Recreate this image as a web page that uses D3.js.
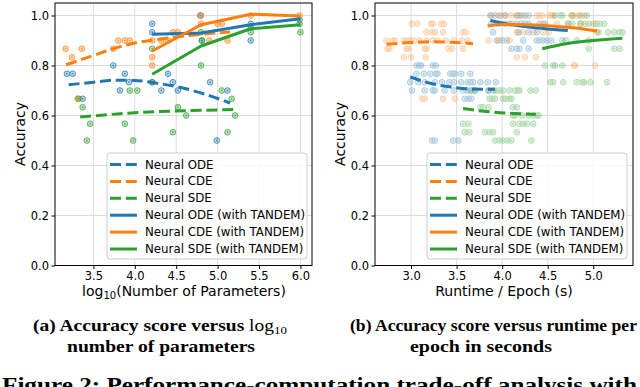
<!DOCTYPE html>
<html><head><meta charset="utf-8">
<script src="https://cdn.jsdelivr.net/npm/d3@7"></script>
<style>html,body{margin:0;padding:0;background:#fff;overflow:hidden}svg{display:block}</style>
</head><body>
<svg id="c" width="640" height="387"></svg>
<script>
// ---------- DATA ----------
const seriesNames = ["Neural ODE","Neural CDE","Neural SDE","Neural ODE (with TANDEM)","Neural CDE (with TANDEM)","Neural SDE (with TANDEM)"];
const colors = ["#1f77b4","#ff7f0e","#2ca02c"];
const yTicks = [0.0,0.2,0.4,0.6,0.8,1.0];
const paramTicks = [3.5,4.0,4.5,5.0,5.5,6.0];
const runtimeTicks = [3.0,3.5,4.0,4.5,5.0];

// Panel (a): log10(#params) vs accuracy scatter
const odeParamPts = [[3.18,0.767],[3.25,0.767],[3.37,0.667],[3.74,0.8],[3.82,0.7],[3.88,0.767],[3.93,0.733],[4.21,0.967],[4.21,0.933],[4.21,0.733],[4.32,0.7],[4.40,0.767],[4.46,0.733],[4.52,0.7],[4.79,1.0],[4.81,0.9],[4.91,0.733],[4.99,0.5],[5.12,0.7],[5.40,0.967],[5.40,0.9],[5.99,0.983]];
const cdeParamPts = [[3.165,0.867],[3.24,0.833],[3.36,0.867],[3.31,0.667],[3.74,0.867],[3.80,0.9],[3.88,0.9],[3.94,0.9],[4.21,0.9],[4.21,0.833],[4.21,0.8],[4.32,0.9],[4.40,0.9],[4.46,0.933],[4.52,0.933],[4.80,1.0],[4.80,0.967],[4.90,0.9],[5.0,0.967],[5.05,0.967],[5.12,0.9],[5.40,1.0],[5.99,1.0]];
const sdeParamPts = [[3.32,0.667],[3.37,0.633],[3.46,0.567],[3.42,0.5],[3.88,0.567],[3.94,0.7],[4.03,0.7],[3.98,0.5],[4.21,0.733],[4.21,0.867],[4.46,0.533],[4.52,0.633],[4.62,0.6],[4.80,0.933],[4.80,0.8],[4.81,0.9],[5.05,0.7],[5.12,0.533],[5.17,0.667],[5.21,0.6],[5.40,0.933],[5.40,0.95],[5.99,0.967],[6.0,0.933]];
// Panel (a) fitted lines
const odeParamLine = [[3.2,0.723],[3.5,0.733],[3.76,0.741],[4.0,0.74],[4.25,0.73],[4.58,0.71],[4.85,0.685],[5.15,0.65]];
const cdeParamLine = [[3.17,0.803],[3.5,0.84],[3.74,0.867],[4.0,0.89],[4.25,0.903],[4.6,0.918],[4.9,0.928],[5.15,0.934]];
const sdeParamLine = [[3.34,0.594],[3.7,0.604],[4.0,0.611],[4.6,0.619],[5.21,0.624]];
const odeTParamLine = [[4.21,0.925],[4.8,0.93],[5.4,0.963],[6.0,0.987]];
const cdeTParamLine = [[4.21,0.858],[4.8,0.963],[5.4,1.005],[6.0,0.998]];
const sdeTParamLine = [[4.21,0.765],[4.8,0.878],[5.4,0.947],[6.0,0.963]];

// Panel (b): runtime/epoch vs accuracy scatter
const odeRuntimePts = [
 [3.87,1.0],[3.92,1.0],[3.98,1.0],[4.03,1.0],[4.16,1.0],[4.19,1.0],[4.25,1.0],[4.29,1.0],
 [3.88,0.967],[3.95,0.967],[4.03,0.967],[4.10,0.967],[4.16,0.967],[4.21,0.967],[4.25,0.967],[4.29,0.967],[4.41,0.967],[4.47,0.967],
 [3.90,0.933],[4.18,0.933],[4.29,0.933],[4.38,0.933],
 [3.94,0.9],[4.0,0.9],[4.05,0.9],[4.23,0.9],[4.38,0.9],[4.41,0.9],[4.45,0.9],[4.49,0.9],[4.54,0.9],[4.66,0.9],
 [4.10,0.867],[4.16,0.867],[4.19,0.867],[4.29,0.867],
 [3.06,0.8],[3.09,0.8],[3.11,0.8],[3.24,0.8],[3.27,0.8],
 [3.06,0.767],[3.14,0.767],[3.21,0.767],[3.27,0.767],[3.29,0.767],[3.43,0.767],[3.46,0.767],[3.48,0.767],[3.55,0.767],[3.65,0.767],
 [2.99,0.733],[3.08,0.733],[3.15,0.733],[3.26,0.733],[3.34,0.733],[3.42,0.733],[3.47,0.733],[3.55,0.733],[3.62,0.733],[3.65,0.733],[3.68,0.733],[3.76,0.733],[3.84,0.733],[3.93,0.733],
 [3.01,0.7],[3.15,0.7],[3.24,0.7],[3.26,0.7],[3.37,0.7],[3.47,0.7],[3.57,0.7],[3.61,0.7],[3.66,0.7],[3.70,0.7],[3.85,0.7],[3.90,0.7],
 [3.59,0.667],[3.63,0.667],[3.66,0.667],
 [3.23,0.5],[3.26,0.5],[3.46,0.5],[3.52,0.5]];
const cdeRuntimePts = [
 [3.88,1.0],[3.96,1.0],[4.04,1.0],[4.10,1.0],[4.17,1.0],[4.22,1.0],[4.38,1.0],[4.41,1.0],[4.44,1.0],[4.52,1.0],[4.54,1.0],[4.56,1.0],[4.76,1.0],[4.79,1.0],[4.83,1.0],[4.90,1.0],
 [3.01,0.967],[3.07,0.967],[3.22,0.967],[3.24,0.967],[3.33,0.967],[3.36,0.967],[4.08,0.967],[4.45,0.967],[4.60,0.967],[4.72,0.967],[4.86,0.967],[5.0,0.967],
 [3.17,0.933],[3.23,0.933],[3.26,0.933],[3.35,0.933],[3.57,0.933],[3.60,0.933],[4.16,0.933],[4.23,0.933],[4.34,0.933],[4.45,0.933],[4.51,0.933],[5.04,0.933],
 [2.73,0.9],[2.80,0.9],[2.82,0.9],[2.92,0.9],[2.96,0.9],[2.99,0.9],[3.03,0.9],[3.09,0.9],[3.17,0.9],[3.24,0.9],[3.29,0.9],[3.38,0.9],[3.47,0.9],[3.56,0.9],[3.62,0.9],[3.85,0.9],[3.96,0.9],[4.08,0.9],
 [2.74,0.867],[2.76,0.867],[2.95,0.867],[2.97,0.867],[3.15,0.867],[3.17,0.867],[3.41,0.867],[3.45,0.867],[3.57,0.867],
 [2.92,0.833],[3.0,0.833],[3.16,0.833],[4.16,0.833],[4.25,0.833],[4.37,0.833],
 [4.79,0.8],[4.80,0.8],[5.02,0.8],
 [3.12,0.667],[3.15,0.667],[3.35,0.667],[3.48,0.667]];
const sdeRuntimePts = [
 [4.58,1.0],[4.64,1.0],[4.66,1.0],[4.77,1.0],[4.86,1.0],[4.93,1.0],
 [4.73,0.967],[4.77,0.967],[4.86,0.967],[4.91,0.967],[4.95,0.967],[5.03,0.967],[5.07,0.967],[5.12,0.967],
 [5.06,0.933],[5.16,0.933],[5.23,0.933],[5.29,0.933],[5.32,0.933],
 [4.70,0.9],[4.82,0.9],[4.95,0.9],
 [4.95,0.867],[5.23,0.867],[5.29,0.867],
 [4.47,0.8],[4.56,0.8],[4.58,0.8],[4.66,0.8],
 [4.53,0.733],[4.56,0.733],[4.67,0.733],[4.82,0.733],[4.88,0.733],[4.90,0.733],[4.97,0.733],[5.15,0.733],
 [3.65,0.7],[3.70,0.7],[3.85,0.7],[3.93,0.7],[3.97,0.7],[4.01,0.7],[4.08,0.7],[4.14,0.7],[4.17,0.7],[4.19,0.7],[4.31,0.7],[4.37,0.7],
 [3.86,0.667],[3.89,0.667],[3.92,0.667],[4.01,0.667],[4.04,0.667],[4.08,0.667],[4.10,0.667],
 [3.76,0.633],[3.79,0.633],[3.85,0.633],[4.12,0.633],[4.16,0.633],
 [4.12,0.6],[4.14,0.6],[4.22,0.6],[4.29,0.6],[4.34,0.6],[4.38,0.6],[4.40,0.6],
 [3.57,0.567],[3.63,0.567],[4.12,0.567],[4.19,0.567],[4.23,0.567],[4.27,0.567],[4.34,0.567],
 [3.59,0.533],[3.64,0.533],[3.81,0.533],[3.86,0.533],[3.90,0.533],[4.16,0.533],
 [3.92,0.5],[3.97,0.5],[4.01,0.5],[4.06,0.5],[4.10,0.5],[4.32,0.5]];
// Panel (b) fitted lines
const odeRuntimeLine = [[2.99,0.754],[3.21,0.729],[3.46,0.713],[3.65,0.706],[3.92,0.705]];
const cdeRuntimeLine = [[2.73,0.885],[3.0,0.892],[3.25,0.895],[3.5,0.892],[3.68,0.887]];
const sdeRuntimeLine = [[3.57,0.628],[3.8,0.617],[4.03,0.61],[4.2,0.607],[4.37,0.605]];
const odeTRuntimeLine = [[3.87,0.98],[4.0,0.97],[4.2,0.958],[4.45,0.948],[4.72,0.94]];
const cdeTRuntimeLine = [[3.84,0.958],[4.0,0.964],[4.3,0.963],[4.6,0.956],[4.85,0.948],[5.04,0.938]];
const sdeTRuntimeLine = [[4.44,0.867],[4.7,0.887],[5.0,0.9],[5.32,0.909]];

// ---------- DRAW ----------
const svg = d3.select("#c");
const FONT = "DejaVu Sans, sans-serif";

function panel(opt){
  const g = svg.append("g");
  const x = d3.scaleLinear().domain(opt.xDomain).range([opt.left, opt.right]);
  const y = d3.scaleLinear().domain([0,1.05]).range([265.5, 3]);
  // grid
  g.append("g").selectAll("line.gx").data(opt.xTicks).join("line")
    .attr("x1",d=>x(d)).attr("x2",d=>x(d)).attr("y1",y(0)).attr("y2",y(1.05))
    .attr("stroke","#dcdcdc").attr("stroke-width",1);
  g.append("g").selectAll("line.gy").data(yTicks).join("line")
    .attr("x1",opt.left).attr("x2",opt.right).attr("y1",d=>y(d)).attr("y2",d=>y(d))
    .attr("stroke","#dcdcdc").attr("stroke-width",1);
  // scatter
  const plot = g.append("g");
  opt.pts.forEach((pts,i)=>{
    const c = colors[i];
    const mg = plot.append("g").attr("opacity",opt.alpha);
    mg.selectAll("circle.o").data(pts).join("circle")
      .attr("cx",d=>x(d[0])).attr("cy",d=>y(d[1])).attr("r",2.8)
      .attr("fill",c).attr("fill-opacity",0.35).attr("stroke",c).attr("stroke-width",1);
    mg.selectAll("circle.i").data(pts).join("circle")
      .attr("cx",d=>x(d[0])).attr("cy",d=>y(d[1])).attr("r",0.9).attr("fill",c);
  });
  // lines
  const line = d3.line().x(d=>x(d[0])).y(d=>y(d[1]));
  const smooth = d3.line().x(d=>x(d[0])).y(d=>y(d[1])).curve(d3.curveMonotoneX);
  opt.dashed.forEach((ln,i)=>{
    plot.append("path").attr("d",smooth(ln)).attr("fill","none").attr("stroke",colors[i])
      .attr("stroke-width",3).attr("stroke-dasharray","11,4.8");
  });
  opt.solid.forEach((ln,i)=>{
    plot.append("path").attr("d",opt.solidSmooth?smooth(ln):line(ln)).attr("fill","none").attr("stroke",colors[i])
      .attr("stroke-width",3).attr("stroke-linejoin","round");
  });
  // axes
  const ax = g.append("g").attr("transform",`translate(0,${y(0)})`)
    .call(d3.axisBottom(x).tickValues(opt.xTicks).tickFormat(d3.format(".1f")).tickSize(3.5).tickPadding(2.5));
  const ay = g.append("g").attr("transform",`translate(${opt.left},0)`)
    .call(d3.axisLeft(y).tickValues(yTicks).tickFormat(d3.format(".1f")).tickSize(3.5).tickPadding(2.5));
  [ax,ay].forEach(a=>{
    a.select(".domain").remove();
    a.selectAll("text").attr("font-family",FONT).attr("font-size",11.5).attr("fill","#000");
    a.selectAll("line").attr("stroke","#000");
  });
  // spines
  g.append("rect").attr("x",opt.left).attr("y",3).attr("width",opt.right-opt.left).attr("height",262.5)
    .attr("fill","none").attr("stroke","#000").attr("stroke-width",1);
  // y label
  g.append("text").attr("transform",`translate(${opt.left-30},134) rotate(-90)`)
    .attr("text-anchor","middle").attr("font-family",FONT).attr("font-size",14).text("Accuracy");
  // x label
  const xl = g.append("text").attr("x",opt.xLabelX).attr("y",295.5).attr("text-anchor","middle")
    .attr("font-family",FONT).attr("font-size",14);
  opt.xLabel(xl);
  // legend
  const lx = opt.left+52, ly = 153;
  const lg = g.append("g");
  lg.append("rect").attr("x",lx).attr("y",ly).attr("width",200).attr("height",106).attr("rx",3)
    .attr("fill","#fff").attr("fill-opacity",0.8).attr("stroke","#cccccc").attr("stroke-width",1);
  seriesNames.forEach((nm,i)=>{
    const yy = ly+11.5+i*16.9;
    lg.append("line").attr("x1",lx+3).attr("x2",lx+30).attr("y1",yy).attr("y2",yy)
      .attr("stroke",colors[i%3]).attr("stroke-width",3)
      .attr("stroke-dasharray", i<3 ? "11,4.8" : null);
    lg.append("text").attr("x",lx+38).attr("y",yy+4).attr("font-family",FONT).attr("font-size",11.8).text(nm);
  });
}

panel({
  xDomain:[3.036,6.14], left:55, right:312, xTicks:paramTicks, alpha:0.8,
  pts:[odeParamPts,cdeParamPts,sdeParamPts],
  dashed:[odeParamLine,cdeParamLine,sdeParamLine],
  solid:[odeTParamLine,cdeTParamLine,sdeTParamLine], solidSmooth:false,
  xLabelX:184,
  xLabel:t=>{ t.append("tspan").text("log"); t.append("tspan").attr("font-size",10).attr("dy",3).text("10");
              t.append("tspan").attr("dy",-3).text("(Number of Parameters)"); }
});
panel({
  xDomain:[2.604,5.436], left:375, right:633, xTicks:runtimeTicks, alpha:0.38,
  pts:[odeRuntimePts,cdeRuntimePts,sdeRuntimePts],
  dashed:[odeRuntimeLine,cdeRuntimeLine,sdeRuntimeLine],
  solid:[odeTRuntimeLine,cdeTRuntimeLine,sdeTRuntimeLine], solidSmooth:true,
  xLabelX:504,
  xLabel:t=>t.text("Runtime / Epoch (s)")
});

// captions
const SERIF = "Liberation Serif, DejaVu Serif, serif";
const capA = svg.append("text").attr("x",33).attr("y",331).attr("font-family",SERIF).attr("font-size",16.5)
  .attr("textLength",254).attr("lengthAdjust","spacingAndGlyphs");
capA.append("tspan").attr("font-weight","bold").text("(a) Accuracy score versus ");
capA.append("tspan").text("log");
capA.append("tspan").attr("font-size",11).attr("dy",3).text("10");
svg.append("text").attr("x",67).attr("y",352).attr("font-family",SERIF)
  .attr("font-size",16.5).attr("font-weight","bold").attr("textLength",188).attr("lengthAdjust","spacingAndGlyphs")
  .text("number of parameters");
svg.append("text").attr("x",350).attr("y",331).attr("font-family",SERIF).attr("font-size",16.5)
  .attr("font-weight","bold").attr("textLength",287).attr("lengthAdjust","spacingAndGlyphs")
  .text("(b) Accuracy score versus runtime per");
svg.append("text").attr("x",410).attr("y",352).attr("font-family",SERIF)
  .attr("font-size",16.5).attr("font-weight","bold").attr("textLength",142).attr("lengthAdjust","spacingAndGlyphs")
  .text("epoch in seconds");
svg.append("text").attr("x",2).attr("y",392).attr("font-family",SERIF).attr("font-size",20)
  .attr("font-weight","bold").attr("textLength",635).attr("lengthAdjust","spacingAndGlyphs")
  .text("Figure 2: Performance-computation trade-off analysis with");
</script>
</body></html>
